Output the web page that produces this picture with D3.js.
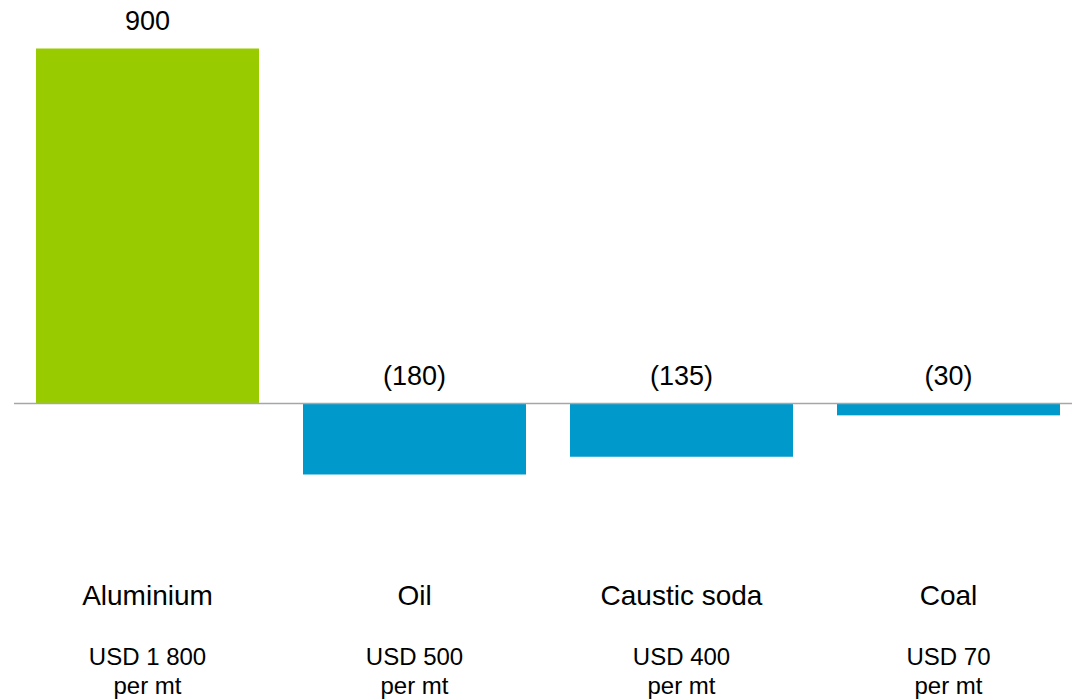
<!DOCTYPE html>
<html>
<head>
<meta charset="utf-8">
<script src="https://cdn.jsdelivr.net/npm/d3@7"></script>
<style>
  html, body { margin: 0; padding: 0; background: #ffffff; }
  svg { display: block; }
  text { font-family: "Liberation Sans", Arial, sans-serif; fill: #000; }
</style>
</head>
<body>
<svg id="chart" width="1072" height="700"></svg>
<script>
const categories = ["Aluminium", "Oil", "Caustic soda", "Coal"];
const values = [900, -180, -135, -30];
const priceLabels = ["USD 1 800", "USD 500", "USD 400", "USD 70"];
const unitLabels = ["per mt", "per mt", "per mt", "per mt"];
const barColors = ["#99cc00", "#0099cc", "#0099cc", "#0099cc"];

const svg = d3.select("#chart");
const W = 1072;

const x = d3.scaleBand()
  .domain(categories)
  .range([14, 1082])
  .paddingInner(44 / 267)
  .paddingOuter(22 / 267);

const y = d3.scaleLinear().domain([0, 900]).range([403.5, 48.5]);

const fmt = v => v < 0 ? "(" + Math.abs(v) + ")" : String(v);

// bars
svg.selectAll("rect.bar")
  .data(categories)
  .enter().append("rect")
  .attr("class", "bar")
  .attr("x", d => x(d))
  .attr("width", x.bandwidth())
  .attr("y", (d, i) => y(Math.max(0, values[i])))
  .attr("height", (d, i) => Math.abs(y(values[i]) - y(0)))
  .attr("fill", (d, i) => barColors[i]);

// baseline
svg.append("line")
  .attr("x1", 14).attr("x2", W)
  .attr("y1", y(0)).attr("y2", y(0))
  .attr("stroke", "#a6a6a6").attr("stroke-width", 1.5);

// value labels
svg.selectAll("text.val")
  .data(categories)
  .enter().append("text")
  .attr("class", "val")
  .attr("x", d => x(d) + x.bandwidth() / 2)
  .attr("y", (d, i) => (values[i] >= 0 ? y(values[i]) : y(0)) - 19)
  .attr("text-anchor", "middle")
  .attr("font-size", "27px")
  .text((d, i) => fmt(values[i]));

// category labels
svg.selectAll("text.cat")
  .data(categories)
  .enter().append("text")
  .attr("class", "cat")
  .attr("x", d => x(d) + x.bandwidth() / 2)
  .attr("y", 605)
  .attr("text-anchor", "middle")
  .attr("font-size", "28px")
  .text(d => d);

svg.selectAll("text.price")
  .data(categories)
  .enter().append("text")
  .attr("class", "price")
  .attr("x", d => x(d) + x.bandwidth() / 2)
  .attr("y", 665)
  .attr("text-anchor", "middle")
  .attr("font-size", "24px")
  .text((d, i) => priceLabels[i]);

svg.selectAll("text.unit")
  .data(categories)
  .enter().append("text")
  .attr("class", "unit")
  .attr("x", d => x(d) + x.bandwidth() / 2)
  .attr("y", 694)
  .attr("text-anchor", "middle")
  .attr("font-size", "24px")
  .text((d, i) => unitLabels[i]);
</script>
</body>
</html>
